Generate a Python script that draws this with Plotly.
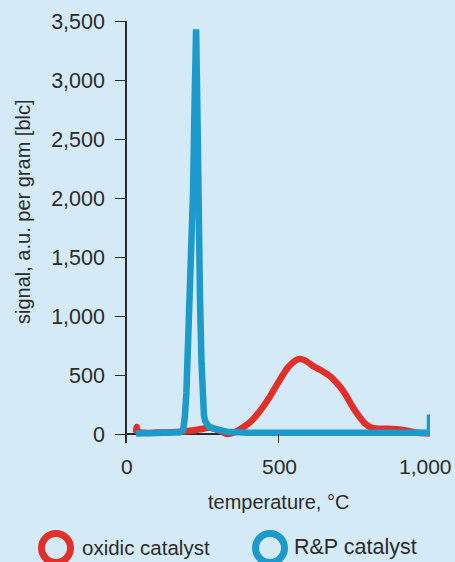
import plotly.graph_objects as go

# ---- data ----
oxidic_temp = [30, 32, 35, 60, 100, 150, 200, 240, 275, 300, 330, 355, 385, 410, 440,
               470, 500, 530, 555, 570, 590, 615, 640, 670, 700, 720, 740, 760, 785,
               805, 830, 860, 890, 920, 960, 1000]
oxidic_signal = [10, 60, 20, 10, 12, 15, 25, 40, 55, 35, 0, 15, 60, 110, 200,
                 310, 440, 560, 620, 635, 620, 575, 540, 490, 410, 340, 250, 170, 90,
                 55, 45, 45, 40, 30, 10, 5]

rp_temp = [30, 100, 150, 175, 185, 191, 196, 200, 207, 213, 218, 223, 228, 232, 235,
           238, 241, 246, 250, 254, 258, 263, 270, 285, 300, 330, 400, 500, 600, 700,
           800, 900, 995, 1000, 1000]
rp_signal = [5, 5, 8, 15, 30, 144, 350, 600, 1135, 1700, 2050, 2800, 3430, 2800, 2000,
             1500, 1135, 600, 280, 160, 110, 80, 62, 45, 35, 20, 10, 8, 5, 8,
             10, 8, 5, 10, 165]

x_tickvals = [0, 500, 1000]
x_ticktext = ["0", "500", "1,000"]
y_tickvals = [0, 500, 1000, 1500, 2000, 2500, 3000, 3500]
y_ticktext = ["0", "500", "1,000", "1,500", "2,000", "2,500", "3,000", "3,500"]

series_names = ["oxidic catalyst", "R&P catalyst"]

# ---- style ----
W, H = 455, 562
ML, MR, MT, MB = 127, 25, 21, 119
BG = "#d4eaf6"
RED = "#e1302a"
BLUE = "#1c9acb"
INK = "#2b2b2b"
FONT = "Liberation Sans Narrow, Arial Narrow, Liberation Sans, sans-serif"
TICK_SIZE = 21.5

PW = W - ML - MR
PH = H - MT - MB


def px_x(px):
    return (px - ML) / PW


def px_y(py):
    return (H - MB - py) / PH


fig = go.Figure()
fig.add_trace(go.Scatter(x=oxidic_temp, y=oxidic_signal, mode="lines",
                         name=series_names[0],
                         line=dict(color=RED, width=6.5, shape="spline", smoothing=0.6)))
fig.add_trace(go.Scatter(x=rp_temp, y=rp_signal, mode="lines",
                         name=series_names[1],
                         line=dict(color=BLUE, width=6.5)))

fig.update_layout(
    width=W, height=H,
    margin=dict(l=ML, r=MR, t=MT, b=MB, pad=0, autoexpand=False),
    paper_bgcolor=BG, plot_bgcolor=BG,
    showlegend=False,
    font=dict(family=FONT, color=INK, size=20),
    xaxis=dict(range=[0, 1000], tickvals=x_tickvals,
               ticks="inside", ticklen=9, tickwidth=1.2, tickcolor=INK,
               showticklabels=False,
               showline=False, showgrid=False, zeroline=False, automargin=False),
    yaxis=dict(range=[-76, 3500], tickvals=y_tickvals, ticktext=y_ticktext,
               ticks="outside", ticklen=10, tickwidth=1.2, tickcolor=INK,
               showline=True, linecolor=INK, linewidth=1.5, automargin=False,
               showgrid=False, zeroline=True, zerolinecolor=INK, zerolinewidth=1.5,
               ticklabeloverflow="allow", ticklabelstandoff=6,
               tickfont=dict(size=TICK_SIZE, family=FONT, color=INK)),
)

annotations = [
    dict(text="signal, a.u. per gram [blc]", textangle=-90, xref="paper", yref="paper",
         x=px_x(23), y=px_y(212), xanchor="center", yanchor="middle", showarrow=False,
         font=dict(size=20, family=FONT, color=INK)),
    dict(text="temperature, °C", xref="paper", yref="paper",
         x=px_x(278.5), y=px_y(502), xanchor="center", yanchor="middle", showarrow=False,
         font=dict(size=20, family=FONT, color=INK)),
    dict(text=series_names[0], xref="paper", yref="paper",
         x=px_x(80), y=px_y(547), xanchor="left", yanchor="middle", showarrow=False,
         font=dict(size=20.5, family=FONT, color=INK)),
    dict(text=series_names[1], xref="paper", yref="paper",
         x=px_x(292), y=px_y(547), xanchor="left", yanchor="middle", showarrow=False,
         font=dict(size=21.5, family=FONT, color=INK)),
]
# x tick labels, placed at the axis tick values
x_label_shift = [0, 1, -5]
for val, txt, sh in zip(x_tickvals, x_ticktext, x_label_shift):
    annotations.append(dict(text=txt, xref="x", yref="paper", x=val, y=px_y(466),
                            xanchor="center", yanchor="middle", xshift=sh,
                            showarrow=False,
                            font=dict(size=21, family=FONT, color=INK)))
fig.update_layout(annotations=annotations)

shapes = []
for cx, col in [(56, RED), (270, BLUE)]:
    r = 14.5
    shapes.append(dict(type="circle", xref="paper", yref="paper",
                       x0=px_x(cx - r), x1=px_x(cx + r),
                       y0=px_y(548 + r), y1=px_y(548 - r),
                       line=dict(color=col, width=7), fillcolor="rgba(0,0,0,0)"))
fig.update_layout(shapes=shapes)

fig.write_html("out.html")
